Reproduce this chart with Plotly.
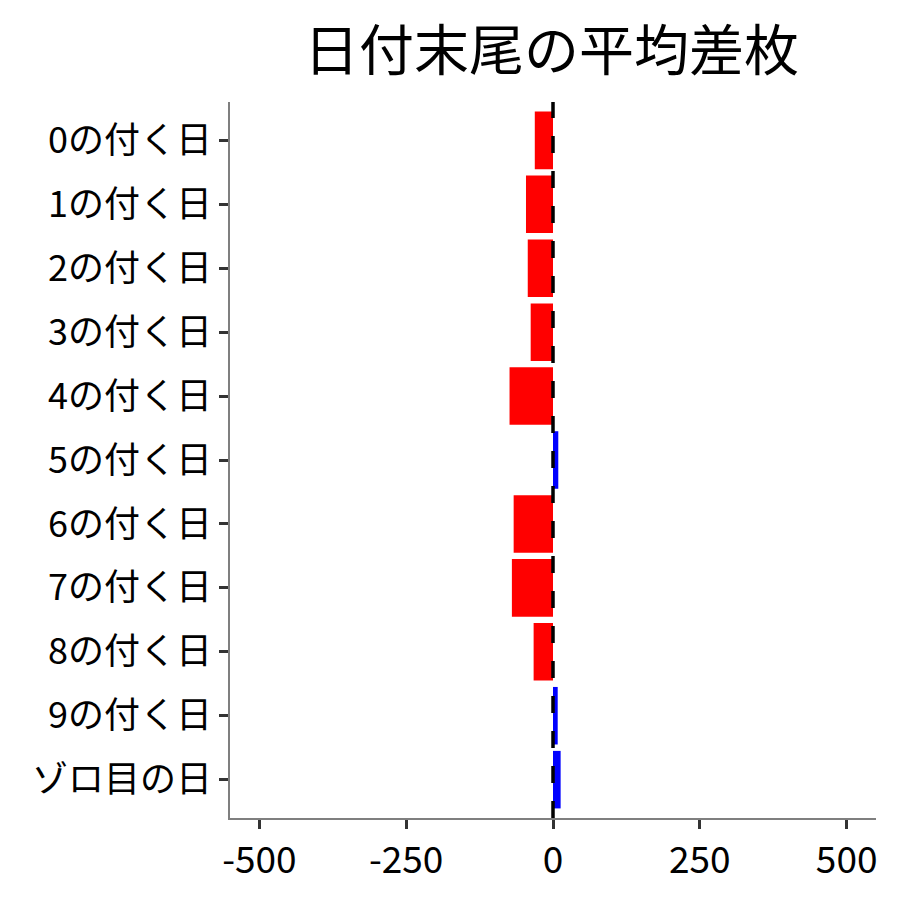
import plotly.graph_objects as go

# 日付末尾ごとの平均差枚
categories = ["0の付く日", "1の付く日", "2の付く日", "3の付く日", "4の付く日",
              "5の付く日", "6の付く日", "7の付く日", "8の付く日", "9の付く日",
              "ゾロ目の日"]
avg_diff = [-31, -46, -43, -38, -74, 9, -67, -70, -33, 8, 13]
x_ticks = [-500, -250, 0, 250, 500]

bar_colors = ["#FF0000" if v < 0 else "#0000FF" for v in avg_diff]
font_name = "Noto Sans CJK JP"

fig = go.Figure()
fig.add_bar(
    x=avg_diff,
    y=categories,
    orientation="h",
    width=0.9,
    marker=dict(color=bar_colors, line=dict(width=0)),
    showlegend=False,
)

# 0 の位置に破線
fig.add_shape(
    type="line", xref="x", yref="y domain",
    x0=0, x1=0, y0=0, y1=1,
    line=dict(color="black", width=3.5, dash="17px,18px"),
    layer="above",
)

fig.update_layout(
    width=900, height=900,
    paper_bgcolor="white", plot_bgcolor="white",
    margin=dict(l=222, r=32, t=94, b=90),
    title=dict(text="日付末尾の平均差枚", x=0.604, xanchor="center",
               y=0.953, yanchor="middle",
               font=dict(family=font_name, size=55, color="black")),
    font=dict(family=font_name, color="black"),
    bargap=0.1,
)
fig.update_xaxes(
    range=[-550, 550], tickvals=x_ticks, ticktext=[str(v) for v in x_ticks],
    showgrid=False, zeroline=False,
    showline=True, linecolor="#7f7f7f", linewidth=1.5,
    ticks="outside", ticklen=9, tickwidth=2.5, tickcolor="#333333",
    tickfont=dict(family=font_name, size=37, color="black"),
)
fig.update_yaxes(
    categoryorder="array", categoryarray=categories,
    range=[len(categories) - 0.4, -0.6],
    showgrid=False, zeroline=False,
    showline=True, linecolor="#7f7f7f", linewidth=1.5,
    ticks="outside", ticklen=9, tickwidth=2.5, tickcolor="#333333",
    tickfont=dict(family=font_name, size=36, color="black"),
)

fig.write_html("out.html")
